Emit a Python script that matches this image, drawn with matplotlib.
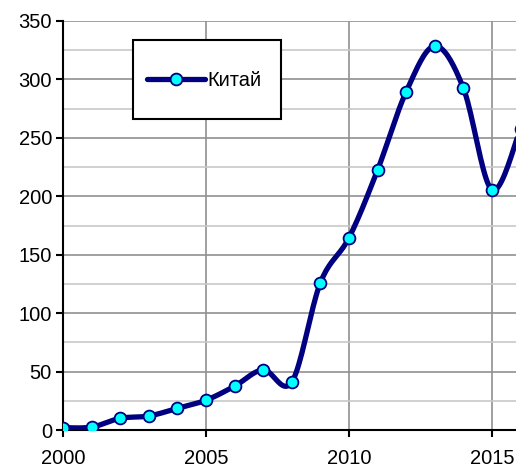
import numpy as np
import matplotlib.pyplot as plt
from matplotlib.lines import Line2D
from matplotlib.patches import Rectangle
from matplotlib.ticker import MultipleLocator

plt.rcParams['font.family'] = ['Liberation Sans', 'DejaVu Sans']

years = [2000, 2001, 2002, 2003, 2004, 2005, 2006, 2007, 2008,
         2009, 2010, 2011, 2012, 2013, 2014, 2015, 2016]
china = [2, 2.5, 10, 12, 18.5, 25.5, 37.5, 51.5, 41,
         126, 164.5, 222.5, 289.5, 328.5, 292.5, 205.5, 258]
series_name = 'Китай'

W, H = 516, 470
LINE_C = '#000080'
MARK_C = '#00ffff'


def smooth(x, y, n=20):
    # excel-like smoothed line (catmull-rom between the points)
    x = np.asarray(x, float)
    y = np.asarray(y, float)
    px = np.concatenate([[x[0]], x, [x[-1]]])
    py = np.concatenate([[y[0]], y, [y[-1]]])
    xs, ys = [], []
    t = np.linspace(0, 1, n, endpoint=False)
    for i in range(1, len(px) - 2):
        for p, out in ((px, xs), (py, ys)):
            p0, p1, p2, p3 = p[i - 1], p[i], p[i + 1], p[i + 2]
            b1 = p1 + (p2 - p0) / 6
            b2 = p2 - (p3 - p1) / 6
            out.extend((1 - t) ** 3 * p1 + 3 * (1 - t) ** 2 * t * b1
                       + 3 * (1 - t) * t ** 2 * b2 + t ** 3 * p2)
    xs.append(x[-1])
    ys.append(y[-1])
    return np.array(xs), np.array(ys)


fig = plt.figure(figsize=(W / 100, H / 100), dpi=100)
ax = fig.add_axes([63 / W, 1 - 430 / H, 1 - 63 / W, 409 / H])

sx, sy = smooth(years, china)
ax.plot(sx, sy, color=LINE_C, lw=3.8, solid_capstyle='round', zorder=3)
ax.plot(years, china, ls='none', marker='o', ms=8.5, mfc=MARK_C,
        mec=LINE_C, mew=1.3, zorder=4)

ax.set_xlim(2000, 2015.84)
ax.set_ylim(0, 350)
ax.xaxis.set_major_locator(MultipleLocator(5))
ax.yaxis.set_major_locator(MultipleLocator(50))
ax.yaxis.set_minor_locator(MultipleLocator(25))
ax.grid(which='major', axis='both', color='#909090', lw=1.2)
ax.grid(which='minor', axis='y', color='#c8c8c8', lw=1.2)
ax.set_axisbelow(True)

for s in ['top', 'right']:
    ax.spines[s].set_visible(False)
for s in ['left', 'bottom']:
    ax.spines[s].set_linewidth(1.5)
ax.tick_params(which='major', direction='out', length=5, width=1.5,
               labelsize=14.5, pad=3)
ax.tick_params(which='minor', length=0)
ax.tick_params(axis='x', pad=9)

# legend box drawn like the excel one
fig.patches.append(Rectangle((133 / W, 1 - 119 / H), 148 / W, 79 / H,
                             transform=fig.transFigure, fc='white',
                             ec='black', lw=1.5, zorder=5))
fig.lines.append(Line2D([147 / W, 205 / W], [1 - 79 / H] * 2,
                        transform=fig.transFigure, color=LINE_C, lw=3.8,
                        solid_capstyle='round', zorder=6))
fig.lines.append(Line2D([176 / W], [1 - 79 / H], transform=fig.transFigure,
                        ls='none', marker='o', ms=8.5, mfc=MARK_C,
                        mec=LINE_C, mew=1.3, zorder=7))
fig.text(207 / W, 1 - 80 / H, series_name, fontsize=14.5, va='center',
         ha='left', zorder=8)

fig.savefig('out.png', dpi=100)
